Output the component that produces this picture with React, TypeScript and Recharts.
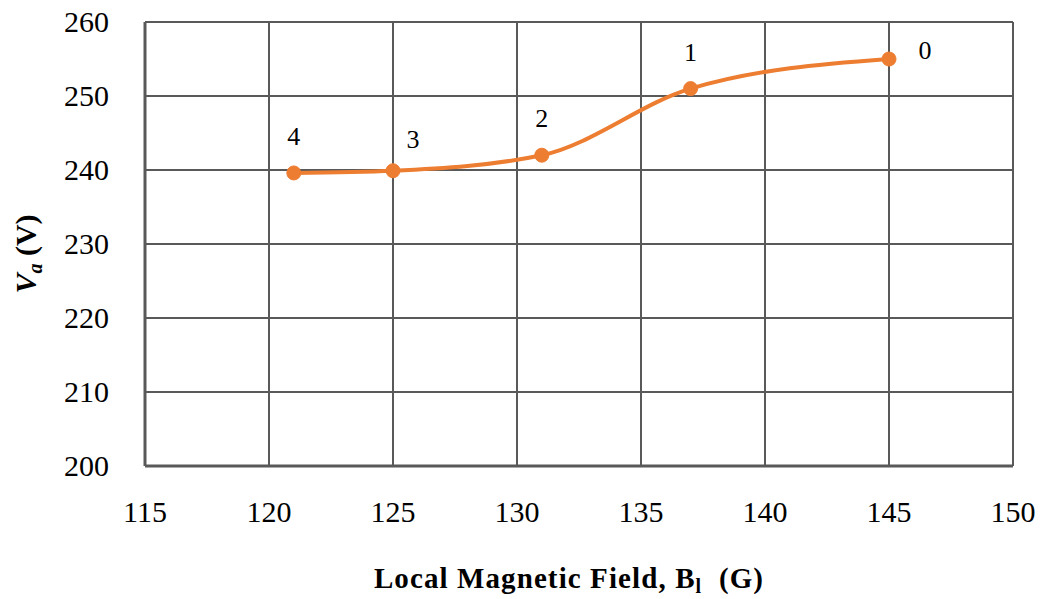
import { CartesianGrid, LabelList, Line, LineChart, XAxis, YAxis } from "recharts";

const FIELD = [121, 125, 131, 137, 145];
const VOLTAGE = [239.6, 239.9, 242, 251, 255];
const POINT_LABELS = ["4", "3", "2", "1", "0"];
const X_TICKS = [115, 120, 125, 130, 135, 140, 145, 150];
const Y_TICKS = [200, 210, 220, 230, 240, 250, 260];

const data = FIELD.map((b, i) => ({ b, v: VOLTAGE[i], tag: POINT_LABELS[i] }));

const FONT = "Liberation Serif, Tinos, Times New Roman, DejaVu Serif, serif";
const GRID = "#595959";
const ORANGE = "#ED7D31";

const XTick = ({ x, y, payload }: any) => (
  <text x={x} y={y + 48} textAnchor="middle" style={{ fontFamily: FONT, fontSize: 30 }} fill="#000">
    {payload.value}
  </text>
);

const YTick = ({ x, y, payload }: any) => (
  <text x={x - 28} y={y + 10} textAnchor="end" style={{ fontFamily: FONT, fontSize: 30 }} fill="#000">
    {payload.value}
  </text>
);

// where each point number sits relative to its marker
const tagOffset = (i: number) => {
  if (i === 1) return { dx: 20, dy: -32 };
  if (i === 4) return { dx: 36, dy: -9 };
  return { dx: 0, dy: -37 };
};

const PointTag = ({ x, y, value, index }: any) => {
  const o = tagOffset(index);
  return (
    <text x={x + o.dx} y={y + o.dy + 9} textAnchor="middle" style={{ fontFamily: FONT, fontSize: 26 }} fill="#000">
      {value}
    </text>
  );
};

const XTitle = () => (
  <text
    x={569}
    y={588}
    textAnchor="middle"
    style={{ fontFamily: FONT, fontSize: 29, fontWeight: "bold", letterSpacing: 1.1 }}
    fill="#000"
  >
    Local Magnetic Field, B
    <tspan style={{ fontSize: 20 }} dy={5}>l</tspan>
    <tspan dy={-5}>{"\u00a0 (G)"}</tspan>
  </text>
);

const YTitle = () => (
  <text
    transform="translate(36,254) rotate(-90)"
    textAnchor="middle"
    style={{ fontFamily: FONT, fontSize: 30, fontWeight: "bold" }}
    fill="#000"
  >
    <tspan style={{ fontStyle: "italic" }}>V</tspan>
    <tspan style={{ fontStyle: "italic", fontSize: 20 }} dy={6}>a</tspan>
    <tspan dy={-6}> (V)</tspan>
  </text>
);

export default function App() {
  return (
    <div style={{ position: "absolute", left: 0, top: 0, background: "#fff", fontFamily: FONT }}>
      <LineChart width={1042} height={599} data={data} margin={{ top: 22, right: 29, left: 0, bottom: 0 }}>
        <CartesianGrid stroke={GRID} strokeWidth={2} />
        <XAxis
          dataKey="b"
          type="number"
          domain={[115, 150]}
          ticks={X_TICKS}
          tick={<XTick />}
          tickLine={false}
          axisLine={{ stroke: GRID, strokeWidth: 3 }}
          height={133}
          interval={0}
          label={{ content: <XTitle /> }}
        />
        <YAxis
          dataKey="v"
          type="number"
          domain={[200, 260]}
          ticks={Y_TICKS}
          tick={<YTick />}
          tickLine={false}
          axisLine={{ stroke: GRID, strokeWidth: 3 }}
          width={145}
          interval={0}
          label={{ content: <YTitle /> }}
        />
        <Line
          type="monotone"
          dataKey="v"
          stroke={ORANGE}
          strokeWidth={4}
          dot={{ r: 7, fill: ORANGE, stroke: ORANGE, strokeWidth: 1 }}
          activeDot={false}
          isAnimationActive={false}
        >
          <LabelList dataKey="tag" content={<PointTag />} />
        </Line>
      </LineChart>
    </div>
  );
}
